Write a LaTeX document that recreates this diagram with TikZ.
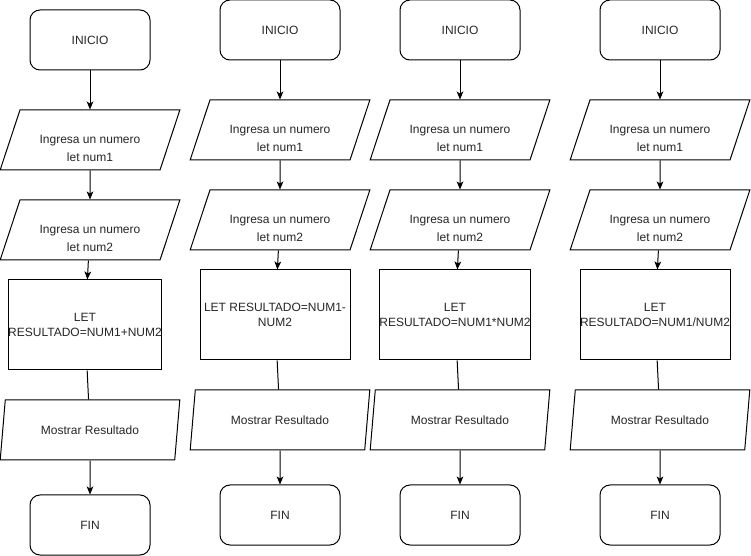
\documentclass[tikz,border=0pt]{standalone}
\usepackage{fontspec}
\setmainfont{Liberation Sans}
\usetikzlibrary{arrows.meta,shapes.geometric}

% taller first line, pushes the input text a little down
\newcommand{\lowtext}{\rule{0pt}{18.5pt}}

\begin{document}
\begin{tikzpicture}[x=0.75pt,y=-0.75pt,font=\fontsize{9}{11}\selectfont,line width=0.75pt,
  term/.style={draw,rounded corners=7.5pt,minimum width=90pt,minimum height=45pt,inner sep=0pt,text=black!85},
  io/.style={draw,trapezium,trapezium left angle=71.57,trapezium right angle=108.43,trapezium stretches=true,
    minimum width=135pt,minimum height=45pt,inner sep=0pt,align=center,text=black!85,font=\fontsize{9}{13.5}\selectfont},
  proc/.style={draw,minimum width=112.5pt,minimum height=67.5pt,inner sep=0pt,align=center,text=black!85},
  arr/.style={-{Stealth[length=6pt,width=5pt,inset=1.5pt]}}]
\useasboundingbox (0,0) rectangle (751,556);
% suma
\node[term] (ini1) at (90,40)  {INICIO};
\node[io]   (num1a) at (90,140) {\lowtext Ingresa un numero\\let num1};
\node[io]   (num1b) at (90,230) {\lowtext Ingresa un numero\\let num2};
\node[proc] (res1) at (85,325) {LET\\RESULTADO=NUM1+NUM2};
\node[io]   (out1) at (90,430) {Mostrar Resultado};
\node[term] (fin1) at (90,525) {FIN};
% resta
\node[term] (ini2) at (280,30)  {INICIO};
\node[io]   (num2a) at (280,130) {\lowtext Ingresa un numero\\let num1};
\node[io]   (num2b) at (280,220) {\lowtext Ingresa un numero\\let num2};
\node[proc] (res2) at (275,315) {LET RESULTADO=NUM1-\\NUM2};
\node[io]   (out2) at (280,420) {Mostrar Resultado};
\node[term] (fin2) at (280,515) {FIN};
% multiplicacion
\node[term] (ini3) at (460,30)  {INICIO};
\node[io]   (num3a) at (460,130) {\lowtext Ingresa un numero\\let num1};
\node[io]   (num3b) at (460,220) {\lowtext Ingresa un numero\\let num2};
\node[proc] (res3) at (455,315) {LET\\RESULTADO=NUM1*NUM2};
\node[io]   (out3) at (460,420) {Mostrar Resultado};
\node[term] (fin3) at (460,515) {FIN};
% division
\node[term] (ini4) at (660,30)  {INICIO};
\node[io]   (num4a) at (660,130) {\lowtext Ingresa un numero\\let num1};
\node[io]   (num4b) at (660,220) {\lowtext Ingresa un numero\\let num2};
\node[proc] (res4) at (655,315) {LET\\RESULTADO=NUM1/NUM2};
\node[io]   (out4) at (660,420) {Mostrar Resultado};
\node[term] (fin4) at (660,515) {FIN};
\draw[arr] (ini1)--(num1a); \draw[arr] (num1a)--(num1b); \draw[arr] (num1b)--(res1); \draw (res1)--(out1); \draw[arr] (out1)--(fin1);
\draw[arr] (ini2)--(num2a); \draw[arr] (num2a)--(num2b); \draw[arr] (num2b)--(res2); \draw (res2)--(out2); \draw[arr] (out2)--(fin2);
\draw[arr] (ini3)--(num3a); \draw[arr] (num3a)--(num3b); \draw[arr] (num3b)--(res3); \draw (res3)--(out3); \draw[arr] (out3)--(fin3);
\draw[arr] (ini4)--(num4a); \draw[arr] (num4a)--(num4b); \draw[arr] (num4b)--(res4); \draw (res4)--(out4); \draw[arr] (out4)--(fin4);
\end{tikzpicture}
\end{document}
